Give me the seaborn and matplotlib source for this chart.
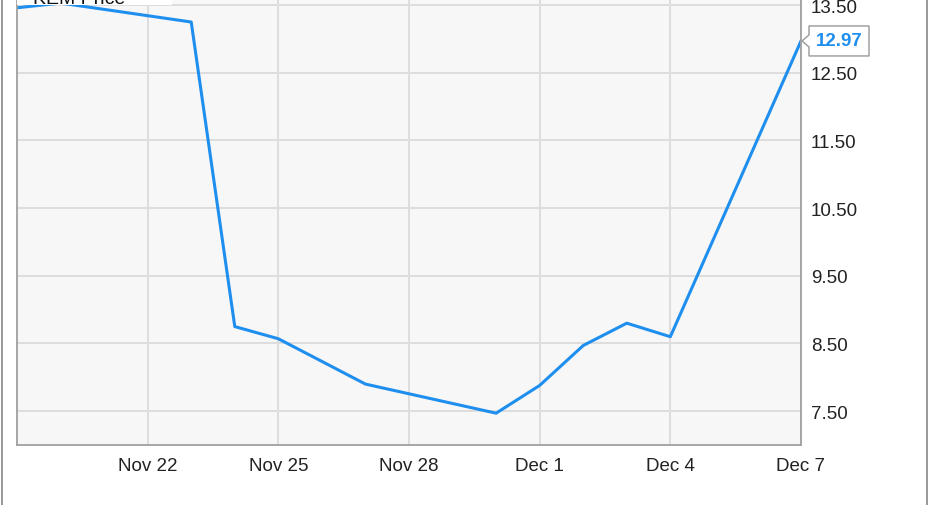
import numpy as np
import pandas as pd
import matplotlib
matplotlib.use("Agg")
from matplotlib import pyplot as plt
import matplotlib.dates as mdates
from matplotlib.lines import Line2D
from matplotlib.patches import Polygon, Rectangle
import seaborn as sns

# price data (2020 trading days)
dates = ["2020-11-19", "2020-11-20", "2020-11-23", "2020-11-24", "2020-11-25",
         "2020-11-27", "2020-11-30", "2020-12-01", "2020-12-02", "2020-12-03",
         "2020-12-04", "2020-12-07"]
prices = [13.46, 13.53, 13.25, 8.75, 8.57, 7.90, 7.47, 7.88, 8.47, 8.80, 8.60, 12.97]
tick_dates = ["2020-11-22", "2020-11-25", "2020-11-28", "2020-12-01", "2020-12-04", "2020-12-07"]
tick_labels = ["Nov 22", "Nov 25", "Nov 28", "Dec 1", "Dec 4", "Dec 7"]
y_ticks = [7.5, 8.5, 9.5, 10.5, 11.5, 12.5, 13.5]
series_name = "KEM Price"

line_color = "#1f8fef"

sns.set_style("white")
plt.rcParams['font.family'] = ['Liberation Sans', 'DejaVu Sans']

df = pd.DataFrame({"date": pd.to_datetime(dates), "price": prices})

fig = plt.figure(figsize=(9.31, 5.06), dpi=100)
ax = fig.add_axes([17 / 931, 60 / 506, 784 / 931, 446 / 506])
ax.set_facecolor("#f7f7f7")

sns.lineplot(data=df, x="date", y="price", ax=ax, color=line_color, linewidth=2.2)

ax.set_xlim(pd.Timestamp("2020-11-19"), pd.Timestamp("2020-12-07"))
ax.set_ylim(7.0, 13.59)
ax.set_xticks(pd.to_datetime(tick_dates))
ax.set_xticklabels(tick_labels)
ax.set_yticks(y_ticks)
ax.set_yticklabels(["%.2f" % v for v in y_ticks])
ax.yaxis.tick_right()
ax.tick_params(axis="both", length=0, labelsize=13.5, colors="#222222")
ax.tick_params(axis="x", pad=9)
ax.tick_params(axis="y", pad=7)
ax.set_xlabel("")
ax.set_ylabel("")
ax.grid(True, color="#dddddd", linewidth=1.4)
ax.set_axisbelow(True)

for side in ["left", "bottom", "right"]:
    ax.spines[side].set_color("#a0a0a0")
    ax.spines[side].set_linewidth(1.3)
ax.spines["top"].set_visible(False)

# legend box cut off at the top
fig.add_artist(Rectangle((17 / 931, 1 - 6 / 506), 155 / 931, 6 / 506,
                         transform=fig.transFigure, facecolor="white", edgecolor="none", zorder=5))
fig.text(33 / 931, 1 - 4 / 506, series_name, fontsize=14, color="#111111",
         va="baseline", ha="left", zorder=6)

# outer frame lines
for xp in [2, 927]:
    fig.add_artist(Line2D([xp / 931, xp / 931], [0, 1], transform=fig.transFigure,
                          color="#999999", linewidth=1.4))

# last value callout
fig.canvas.draw()
px, py = ax.transData.transform((mdates.date2num(df["date"].iloc[-1]), prices[-1]))
box = [(px + 1, py), (px + 8, py + 6), (px + 8, py + 15), (px + 68, py + 15),
       (px + 68, py - 15), (px + 8, py - 15), (px + 8, py - 6)]
fig.add_artist(Polygon(box, closed=True, transform=None, facecolor="white",
                       edgecolor="#999999", linewidth=1.0, zorder=7))
fig.text((px + 38) / 931, py / 506, "%.2f" % prices[-1], fontsize=13.5, fontweight="bold",
         color=line_color, ha="center", va="center", zorder=8)

fig.savefig("out.png", dpi=100)
